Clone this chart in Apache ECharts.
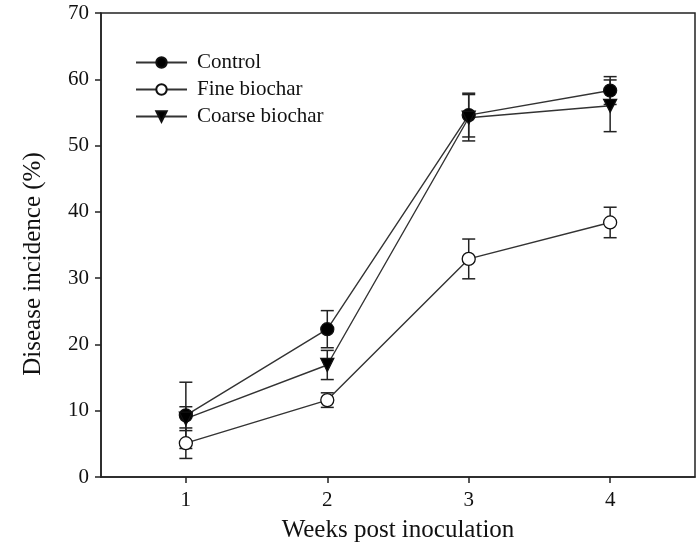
<!DOCTYPE html>
<html>
<head>
<meta charset="utf-8">
<script src="https://cdn.jsdelivr.net/npm/echarts@6/dist/echarts.min.js"></script>
<style>html,body{margin:0;padding:0;background:#fff}#c{width:696px;height:549px}</style>
</head>
<body>
<div id="c"></div>
<script>
var weeks = [1, 2, 3, 4];
var weekLabels = ['1', '2', '3', '4'];
var control = [9.3, 22.3, 54.6, 58.3];
var controlErr = [5.0, 2.8, 3.3, 2.1];
var fine = [5.1, 11.6, 32.9, 38.4];
var fineErr = [2.3, 1.1, 3.0, 2.3];
var coarse = [8.8, 16.9, 54.2, 56.0];
var coarseErr = [1.8, 2.2, 3.5, 3.9];
var yTicks = [0, 10, 20, 30, 40, 50, 60, 70];

var FONT = "'Liberation Serif', 'Times New Roman', serif";
var chart = echarts.init(document.getElementById('c'), null, {renderer: 'canvas'});

function pts(vals) { return weeks.map(function (w, i) { return [w, vals[i]]; }); }
function errs(vals, e) { return weeks.map(function (w, i) { return [w, vals[i] - e[i], vals[i] + e[i]]; }); }

function errSeries(vals, e) {
  return {
    type: 'custom',
    z: 1,
    silent: true,
    data: errs(vals, e),
    renderItem: function (params, api) {
      var x = api.value(0);
      var lo = api.coord([x, api.value(1)]);
      var hi = api.coord([x, api.value(2)]);
      var hw = 6.5;
      var st = {stroke: '#222', lineWidth: 1.5};
      return {
        type: 'group',
        children: [
          {type: 'line', shape: {x1: lo[0], y1: lo[1], x2: hi[0], y2: hi[1]}, style: st},
          {type: 'line', shape: {x1: lo[0] - hw, y1: lo[1], x2: lo[0] + hw, y2: lo[1]}, style: st},
          {type: 'line', shape: {x1: hi[0] - hw, y1: hi[1], x2: hi[0] + hw, y2: hi[1]}, style: st}
        ]
      };
    }
  };
}

function lineSeries(name, vals, symbol, fill, rot) {
  return {
    name: name,
    type: 'line',
    z: 3,
    data: pts(vals),
    symbol: symbol,
    symbolSize: 13,
    symbolRotate: rot || 0,
    showAllSymbol: true,
    lineStyle: {color: '#333', width: 1.4},
    itemStyle: {color: fill, borderColor: '#111', borderWidth: 1.3},
    emphasis: {disabled: true},
    animation: false
  };
}

chart.setOption({
  animation: false,
  backgroundColor: '#fff',
  grid: {left: 101, top: 13, right: 1, bottom: 72, outerBoundsMode: 'none', containLabel: false,
    show: true, borderColor: '#222', borderWidth: 1.5, backgroundColor: 'transparent'},
  legend: {
    left: 130, top: 47, orient: 'vertical', itemGap: 6, itemWidth: 51, itemHeight: 13,
    textStyle: {fontFamily: FONT, fontSize: 21, color: '#111', padding: [0, 0, 0, 5]},
    data: ['Control', 'Fine biochar', 'Coarse biochar']
  },
  xAxis: {
    type: 'value', min: 0.4, max: 4.6,
    name: 'Weeks post inoculation', nameLocation: 'middle', nameGap: 41,
    nameTextStyle: {fontFamily: FONT, fontSize: 25, color: '#111'},
    axisLine: {show: true, lineStyle: {color: '#222', width: 1.5}},
    axisTick: {show: true, inside: false, length: 6, lineStyle: {color: '#222', width: 1.5}, customValues: weeks},
    axisLabel: {fontFamily: FONT, fontSize: 21, color: '#111', margin: 13, customValues: weeks,
      formatter: function (v) { var i = weeks.indexOf(v); return i >= 0 ? weekLabels[i] : ''; }},
    splitLine: {show: false}
  },
  yAxis: {
    type: 'value', min: 0, max: 70, interval: 10,
    axisLine: {show: true, lineStyle: {color: '#222', width: 1.5}},
    axisTick: {show: true, inside: false, length: 6, lineStyle: {color: '#222', width: 1.5}, customValues: yTicks},
    axisLabel: {fontFamily: FONT, fontSize: 21, color: '#111', margin: 12, customValues: yTicks},
    splitLine: {show: false}
  },
  graphic: [{
    type: 'text', x: 33, y: 264, rotation: Math.PI / 2,
    style: {text: 'Disease incidence (%)', font: '25px ' + FONT, fill: '#111', textAlign: 'center', textVerticalAlign: 'middle'}
  }],
  series: [
    errSeries(control, controlErr),
    errSeries(fine, fineErr),
    errSeries(coarse, coarseErr),
    lineSeries('Control', control, 'circle', '#000'),
    lineSeries('Fine biochar', fine, 'circle', '#fff'),
    lineSeries('Coarse biochar', coarse, 'triangle', '#000', 180)
  ]
});
</script>
</body>
</html>
